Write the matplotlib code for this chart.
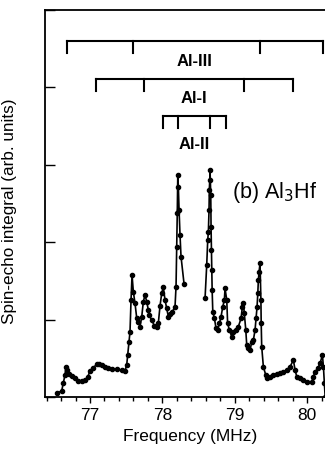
import numpy as np
import matplotlib
matplotlib.use("Agg")
import matplotlib.pyplot as plt
from matplotlib.ticker import MultipleLocator

plt.rcParams['font.family'] = ['Liberation Sans', 'DejaVu Sans']

# spectrum (NaN = gap in the data)
freq = [76.548, 76.609, 76.631, 76.654, 76.668, 76.686, 76.714, 76.747,
        76.793, 76.838, 76.885, 76.931, 76.968, 77.000, 77.046, 77.093,
        77.129, 77.162, 77.207, 77.253, 77.300, 77.369, 77.438, 77.484,
        77.507, 77.521, 77.539, 77.553, 77.567, 77.581, 77.599, 77.622,
        77.646, 77.668, 77.691, 77.715, 77.737, 77.760, 77.784, 77.806,
        77.816, 77.853, 77.889, 77.922, 77.944, 77.968, 77.991, 78.013,
        78.037, 78.060, 78.083, 78.106, 78.138, 78.175, 78.189, 78.199,
        78.206, 78.213, 78.221, 78.231, 78.244, 78.258, 78.300, 78.450,
        78.590, 78.613, 78.627, 78.636, 78.645, 78.649, 78.655, 78.659,
        78.669, 78.673, 78.678, 78.683, 78.688, 78.697, 78.719, 78.742,
        78.766, 78.788, 78.811, 78.835, 78.857, 78.866, 78.890, 78.902,
        78.926, 78.959, 78.981, 79.014, 79.050, 79.088, 79.106, 79.120,
        79.133, 79.153, 79.166, 79.189, 79.212, 79.236, 79.258, 79.281,
        79.295, 79.309, 79.319, 79.327, 79.336, 79.350, 79.362, 79.366,
        79.373, 79.396, 79.429, 79.451, 79.489, 79.534, 79.581, 79.627,
        79.673, 79.720, 79.765, 79.811, 79.834, 79.858, 79.903, 79.949,
        79.996, 80.065, 80.087, 80.111, 80.148, 80.180, 80.212, 80.226,
        80.239, 80.250]
signal = [0.048, 0.081, 0.177, 0.284, 0.391, 0.349, 0.297, 0.271,
          0.242, 0.211, 0.207, 0.220, 0.255, 0.340, 0.379, 0.422,
          0.422, 0.413, 0.391, 0.371, 0.362, 0.358, 0.349, 0.340,
          0.413, 0.543, 0.714, 0.844, 1.253, 1.576, 1.360, 1.211,
          1.017, 0.973, 0.908, 1.037, 1.231, 1.318, 1.231, 1.124,
          1.059, 0.995, 0.921, 0.908, 0.952, 1.180, 1.340, 1.417,
          1.253, 1.146, 1.037, 1.072, 1.102, 1.167, 1.425, 1.942,
          2.373, 2.868, 2.717, 2.416, 2.093, 1.813, 1.460, np.nan,
          1.275, 1.705, 2.028, 2.136, 2.416, 2.674, 2.804, 2.933,
          2.610, 2.200, 1.899, 1.641, 1.382, 1.102, 1.017, 0.888,
          0.866, 0.952, 1.037, 1.167, 1.253, 1.404, 1.253, 0.952,
          0.866, 0.779, 0.844, 0.866, 0.908, 1.017, 1.167, 1.211,
          1.081, 0.866, 0.672, 0.629, 0.607, 0.714, 0.736, 0.866,
          1.017, 1.167, 1.340, 1.512, 1.610, 1.731, 1.253, 0.952,
          0.650, 0.391, 0.284, 0.242, 0.262, 0.284, 0.297, 0.306,
          0.327, 0.349, 0.391, 0.478, 0.349, 0.262, 0.242, 0.220,
          0.198, 0.198, 0.262, 0.327, 0.371, 0.435, 0.543, 0.391,
          0.177, 0.000]

# line positions for each Al site (MHz)
al3_lines = [76.678, 77.590, 79.350, 80.217]
al1_lines = [77.078, 77.747, 79.134, 79.811]
al2_lines = [78.005, 78.212, 78.659, 78.880]
comb_y = [4.60, 4.11, 3.63]
label_y = [4.34, 3.86, 3.26]
comb_names = ["Al-III", "Al-I", "Al-II"]

fig = plt.figure(figsize=(3.25, 4.49), dpi=100)
ax = fig.add_axes([45/325, 52/449, 290/325, 387/449])

ax.plot(freq, signal, '-o', color='black', lw=1.2, ms=3.0)

for lines, y, ly, name in zip([al3_lines, al1_lines, al2_lines], comb_y,
                              label_y, comb_names):
    ax.plot([lines[0], lines[-1]], [y, y], color='black', lw=1.5)
    for f in lines:
        ax.plot([f, f], [y, y - 0.16], color='black', lw=1.5)
    ax.text(78.44, ly, name, ha='center', va='center', fontsize=12,
            fontweight='bold')

ax.text(78.96, 2.64, "(b) Al$_3$Hf", fontsize=15.5, ha='left', va='center')

ax.set_xlim(76.378, 80.386)
ax.set_ylim(0, 5)
ax.xaxis.set_major_locator(MultipleLocator(1))
ax.xaxis.set_minor_locator(MultipleLocator(0.2))
ax.yaxis.set_major_locator(MultipleLocator(1))
ax.set_yticklabels([])
ax.tick_params(axis='x', direction='out', length=4, width=1, labelsize=12.5, pad=4)
ax.tick_params(axis='x', which='minor', direction='out', length=3, width=1)
ax.tick_params(axis='y', direction='in', length=7, width=1)
for s in ax.spines.values():
    s.set_linewidth(1.3)

ax.set_xlabel("Frequency (MHz)", fontsize=12.5, labelpad=4)
ax.set_ylabel("Spin-echo integral (arb. units)", fontsize=12.3, labelpad=10)
ax.yaxis.set_label_coords(-0.095, 0.48)

fig.savefig("out.png", dpi=100)
